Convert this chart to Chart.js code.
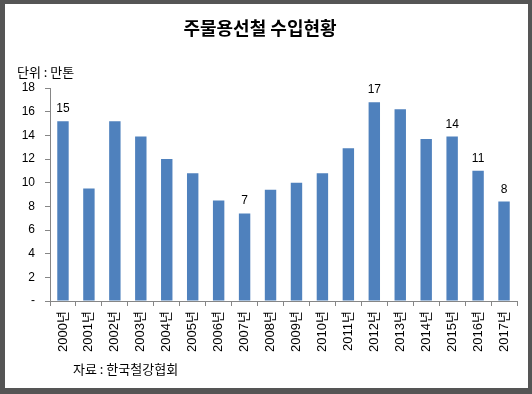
<!DOCTYPE html>
<html>
<head>
<meta charset="utf-8">
<script src="https://cdn.jsdelivr.net/npm/chart.js@4.4.0/dist/chart.umd.min.js"></script>
<style>
  html, body { margin: 0; padding: 0; background: #555555; }
  #frame { position: absolute; left: 5px; top: 4px; width: 523px; height: 384px; background: #ffffff; }
  #wrap { position: absolute; left: 0; top: 0; width: 532px; height: 394px; }
</style>
</head>
<body>
<div id="frame"></div>
<div id="wrap"><canvas id="imports-chart" width="532" height="394"></canvas></div>
<script>
// 주물용선철 수입현황 (단위: 만톤)
var years = ['2000년', '2001년', '2002년', '2003년', '2004년', '2005년', '2006년', '2007년', '2008년',
             '2009년', '2010년', '2011년', '2012년', '2013년', '2014년', '2015년', '2016년', '2017년'];
var imports = [15.2, 9.5, 15.2, 13.9, 12.0, 10.8, 8.5, 7.4, 9.4,
               10.0, 10.8, 12.9, 16.8, 16.2, 13.7, 13.9, 11.0, 8.4];
// which bars get a value label in the original
var labelled = ['2000년', '2007년', '2012년', '2015년', '2016년', '2017년'];
var yTicks = [0, 2, 4, 6, 8, 10, 12, 14, 16, 18];

var numFont = '"Liberation Sans", "Noto Sans CJK KR", sans-serif';
var krFont = '"Noto Sans CJK KR", sans-serif';

var textPlugin = {
    id: 'texts',
    afterDraw: function(chart) {
        var ctx = chart.ctx;
        ctx.save();
        ctx.fillStyle = '#000000';
        // title
        ctx.font = 'bold 18px ' + krFont;
        ctx.textAlign = 'center';
        ctx.textBaseline = 'middle';
        ctx.fillText('주물용선철 수입현황', 260, 28);
        // unit + source
        ctx.font = '13px ' + krFont;
        ctx.textAlign = 'left';
        ctx.fillText('단위 : 만톤', 17, 72);
        ctx.fillText('자료 : 한국철강협회', 73, 369);
        // value labels
        var meta = chart.getDatasetMeta(0);
        ctx.font = '12px ' + numFont;
        ctx.textAlign = 'center';
        ctx.textBaseline = 'alphabetic';
        meta.data.forEach(function(bar, i) {
            if (labelled.indexOf(years[i]) < 0) return;
            ctx.fillText(Math.round(imports[i]), bar.x, bar.y - 9);
        });
        ctx.restore();
    }
};

var ctx = document.getElementById('imports-chart');
var chart = new Chart(ctx, {
    type: 'bar',
    data: {
        labels: years,
        datasets: [{
            data: imports,
            backgroundColor: '#4F81BD',
            borderWidth: 0,
            barPercentage: 0.44,
            categoryPercentage: 1.0
        }]
    },
    options: {
        responsive: false,
        animation: false,
        layout: { padding: { top: 88, right: 15, left: 0, bottom: 0 } },
        plugins: {
            legend: { display: false },
            tooltip: { enabled: false }
        },
        scales: {
            x: {
                afterFit: function(scale) { scale.height = 93; },
                grid: { offset: true, drawOnChartArea: false, tickLength: 5, color: '#868686' },
                border: { color: '#868686' },
                ticks: {
                    minRotation: 90, maxRotation: 90, padding: 5,
                    color: '#000000', font: { family: numFont, size: 13 }
                }
            },
            y: {
                min: 0, max: 18,
                afterFit: function(scale) { scale.width = 50; },
                afterBuildTicks: function(scale) {
                    scale.ticks = yTicks.map(function(v) { return { value: v }; });
                },
                grid: { drawOnChartArea: false, tickLength: 5, color: '#868686' },
                border: { color: '#868686' },
                ticks: {
                    padding: 10, color: '#000000',
                    font: { family: numFont, size: 12 },
                    callback: function(v) { return v === 0 ? '-' : v; }
                }
            }
        }
    },
    plugins: [textPlugin]
});
</script>
</body>
</html>
